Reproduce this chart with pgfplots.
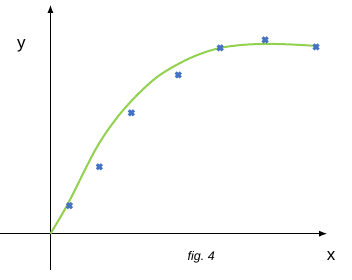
\documentclass[border=0pt]{standalone}
\usepackage{fontspec}
\setmainfont{Liberation Sans}
\usepackage{pgfplots}
\pgfplotsset{compat=1.18}
\usetikzlibrary{arrows.meta}
\definecolor{ptblue}{HTML}{4472C4}
\definecolor{crvgreen}{HTML}{92D050}
\begin{document}
\begin{tikzpicture}
\begin{axis}[
  scale only axis, width=352pt, height=280pt,
  xmin=-50, xmax=302, ymin=-46, ymax=234,
  hide axis, clip=false,
]
\path (rel axis cs:0,0) rectangle (rel axis cs:1,1);
\draw[line width=1pt, -{Latex[length=8pt,width=6pt]}] (axis cs:-50,0) -- (axis cs:277,0);
\draw[line width=1pt, -{Latex[length=8pt,width=6pt]}] (axis cs:0,-36) -- (axis cs:0,229);
\addplot[crvgreen, line width=2pt, smooth, tension=0.55] coordinates {
(0,0) (17,29) (45,84) (65,114) (85,137) (107,157) (130,171) (150,180) (170,186) (192,189) (215,190) (240,189.5) (266,188)
};
\addplot[only marks, mark=x, mark size=3.6pt, ptblue, line width=3pt] coordinates {
(19,28) (49,67) (81,121) (128,159) (170,186) (215,194) (266,187)
};
\node[font=\fontsize{17}{19}\selectfont] at (axis cs:-29,188) {y};
\node[font=\fontsize{17}{19}\selectfont] at (axis cs:281,-22) {x};
\node[font=\itshape\fontsize{12.5}{14}\selectfont] at (axis cs:151,-24) {fig.\ 4};
\end{axis}
\end{tikzpicture}
\end{document}
